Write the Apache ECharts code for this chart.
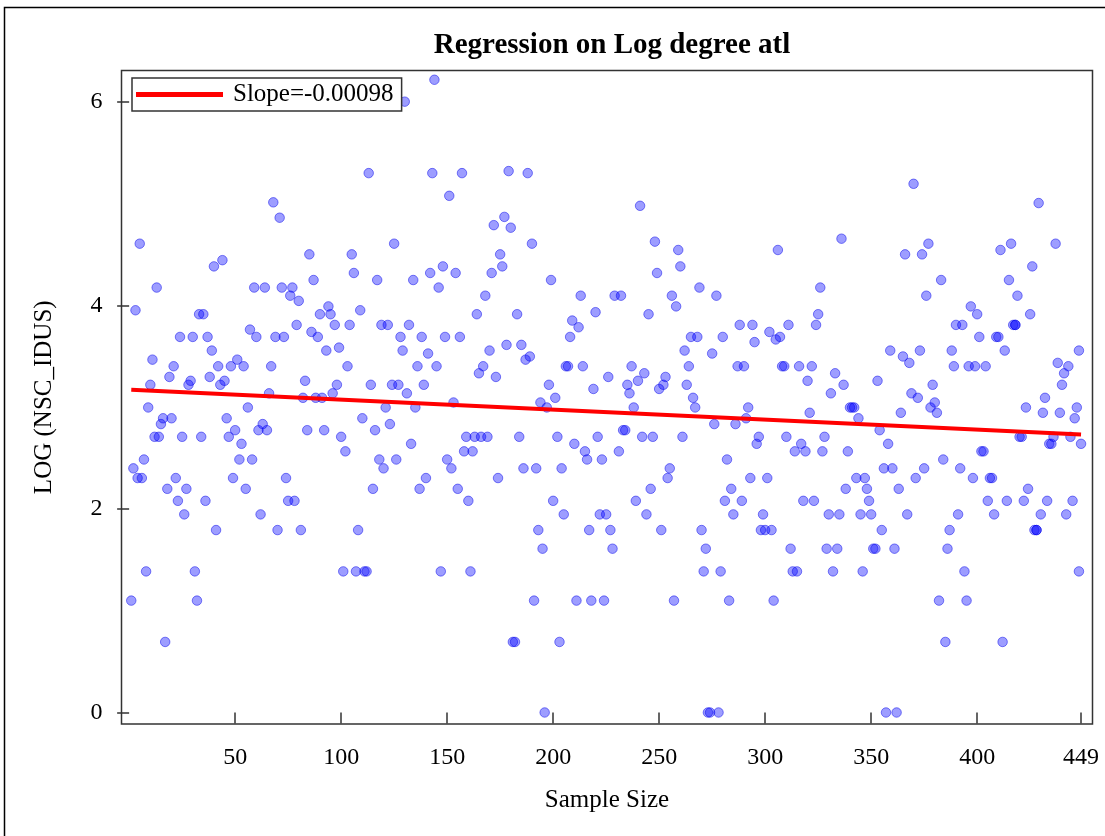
<!DOCTYPE html>
<html>
<head>
<meta charset="utf-8">
<script src="https://cdn.jsdelivr.net/npm/echarts@6/dist/echarts.min.js"></script>
<style>
  html, body { margin: 0; padding: 0; background: #fff; }
  #chart { width: 1105px; height: 836px; }
</style>
</head>
<body>
<div id="chart"></div>
<script>
// ---- Data ----
const sampleSize = [
  1,2,3,4,5,6,7,8,9,10,11,12,13,14,15,16,17,18,19,20,
  21,22,23,24,25,26,27,28,29,30,31,32,33,34,35,36,37,38,39,40,
  41,42,43,44,45,46,47,48,49,50,51,52,53,54,55,56,57,58,59,60,
  61,62,63,64,65,66,67,68,69,70,71,72,73,74,75,76,77,78,79,80,
  81,82,83,84,85,86,87,88,89,90,91,92,93,94,95,96,97,98,99,100,
  101,102,103,104,105,106,107,108,109,110,111,112,113,114,115,116,117,118,119,120,
  121,122,123,124,125,126,127,128,129,130,131,132,133,134,135,136,137,138,139,140,
  141,142,143,144,145,146,147,148,149,150,151,152,153,154,155,156,157,158,159,160,
  161,162,163,164,165,166,167,168,169,170,171,172,173,174,175,176,177,178,179,180,
  181,182,183,184,185,186,187,188,189,190,191,192,193,194,195,196,197,198,199,200,
  201,202,203,204,205,206,207,208,209,210,211,212,213,214,215,216,217,218,219,220,
  221,222,223,224,225,226,227,228,229,
  231,232,233,234,235,236,237,238,239,240,
  241,242,243,244,245,246,247,248,249,250,251,252,253,254,255,256,257,258,259,260,
  261,262,263,264,265,266,267,268,269,270,271,272,273,274,275,276,277,278,279,280,
  281,282,283,284,285,286,287,288,289,290,291,292,293,294,295,296,297,298,299,300,
  301,302,303,304,305,306,307,308,309,310,311,312,313,314,315,316,317,318,319,320,
  321,322,323,324,325,326,327,328,329,330,331,332,333,334,335,336,337,338,339,340,
  341,342,343,344,345,346,347,348,349,350,351,352,353,354,355,356,357,358,359,360,
  361,362,363,364,365,366,367,368,369,370,371,372,373,374,375,376,377,378,379,380,
  381,382,383,384,385,386,387,388,389,390,391,392,393,394,395,396,397,398,399,400,
  401,402,403,404,405,406,407,408,409,410,411,412,413,414,415,416,417,
  418,418,
  419,420,421,422,423,424,425,426,427,428,
  428,
  429,430,431,432,433,434,435,436,437,438,439,440,441,442,443,444,445,446,447,448,
  448,449
];

const logDegree = [
  // 1-76
  1.099,2.398,3.951,2.303,4.605,2.303,2.485,1.386,2.996,3.219,
  3.466,2.708,4.174,2.708,2.833,2.890,0.693,2.197,3.296,2.890,
  3.401,2.303,2.079,3.689,2.708,1.946,2.197,3.219,3.258,3.689,
  1.386,1.099,3.912,2.708,3.912,2.079,3.689,3.296,3.555,4.382,
  1.792,3.401,3.219,4.443,3.258,2.890,2.708,3.401,2.303,2.773,
  3.466,2.485,2.639,3.401,2.197,2.996,3.761,2.485,4.174,3.689,
  2.773,1.946,2.833,4.174,2.773,3.135,3.401,5.011,3.689,1.792,
  4.860,4.174,3.689,2.303,2.079,4.094,
  // 77-151
  4.174,2.079,3.807,4.043,1.792,3.091,3.258,2.773,4.500,3.738,
  4.248,3.091,3.689,3.912,3.091,2.773,3.555,3.989,3.912,3.135,
  3.807,3.219,3.584,2.708,1.386,2.565,3.401,3.807,4.500,4.317,
  1.386,1.792,3.951,2.890,1.386,1.386,5.298,3.219,2.197,2.773,
  4.248,2.485,3.807,2.398,2.996,3.807,2.833,3.219,4.605,2.485,
  3.219,3.689,3.555,6.000,3.135,3.807,2.639,4.248,2.996,3.401,
  2.197,3.689,3.219,2.303,3.526,4.317,5.298,6.215,3.401,4.174,
  1.386,4.382,3.689,2.485,5.075,
  // 152-228
  2.398,3.045,4.317,2.197,3.689,5.298,2.565,2.708,
  2.079,1.386,2.565,2.708,3.912,3.332,2.708,3.401,4.094,2.708,
  3.555,4.317,4.787,3.296,2.303,4.500,4.382,4.868,3.611,5.318,
  4.762,0.693,0.693,3.912,2.708,3.611,2.398,3.466,5.298,3.497,
  4.605,1.099,2.398,1.792,3.045,1.609,0.000,2.996,3.219,4.248,
  2.079,3.091,2.708,0.693,2.398,1.946,3.401,3.401,3.689,3.850,
  2.639,1.099,3.784,4.094,3.401,2.565,2.485,1.792,1.099,3.178,
  3.932,2.708,1.946,2.485,1.099,1.946,3.296,1.792,1.609,
  // 229
  4.094,
  // 231-302
  2.565,4.094,2.773,2.773,3.219,3.135,3.401,2.996,2.079,3.258,
  4.977,2.708,3.332,1.946,3.912,2.197,2.708,4.625,4.317,3.178,
  1.792,3.219,3.296,2.303,2.398,4.094,1.099,3.989,4.543,4.382,
  2.708,3.555,3.219,3.401,3.689,3.091,2.996,3.689,4.174,1.792,
  1.386,1.609,0.000,0.000,3.526,2.833,4.094,0.000,1.386,3.689,
  2.079,2.485,1.099,2.197,1.946,2.833,3.401,3.807,2.079,3.401,
  2.890,2.996,2.303,3.807,3.638,2.639,2.708,1.792,1.946,1.792,
  2.303,3.738,
  // 303-379
  1.792,1.099,3.664,4.543,3.689,3.401,3.401,2.708,
  3.807,1.609,1.386,2.565,1.386,3.401,2.639,2.079,2.565,3.258,
  2.944,3.401,2.079,3.807,3.912,4.174,2.565,2.708,1.609,1.946,
  3.135,1.386,3.332,1.609,1.946,4.654,3.219,2.197,2.565,2.996,
  2.996,2.996,2.303,2.890,1.946,1.386,2.303,2.197,2.079,1.946,
  1.609,1.609,3.258,2.773,1.792,2.398,0.000,2.639,3.555,2.398,
  1.609,0.000,2.197,2.944,3.497,4.500,1.946,3.434,3.135,5.193,
  2.303,3.091,3.555,4.500,2.398,4.094,4.605,2.996,3.219,
  // 380-416
  3.045,2.944,1.099,4.248,2.485,0.693,1.609,1.792,3.555,3.401,
  3.807,1.946,2.398,3.807,1.386,1.099,3.401,3.989,2.303,3.401,
  3.912,3.689,2.565,2.565,3.401,2.079,2.303,2.303,1.946,3.689,
  3.689,4.543,0.693,3.555,2.079,4.248,4.605,
  // 417, 418, 418
  3.807,3.807,3.807,
  // 419-428
  4.094,2.708,2.708,2.079,2.996,2.197,3.912,4.382,1.792,1.792,
  // 428
  1.792,
  // 429-448
  5.004,1.946,2.944,3.091,2.079,2.639,2.639,2.708,4.605,3.434,
  2.944,3.219,3.332,1.946,3.401,2.708,2.079,2.890,2.996,3.555,
  // 448, 449
  1.386,2.639
];

// Regression line (end points)
const fitX = [1, 449];
const fitY = [3.170, 2.731];
const legendLabel = 'Slope=-0.00098';

const xTickValues = [50, 100, 150, 200, 250, 300, 350, 400, 449];
const yTickValues = [0, 2, 4, 6];

const chartTitle = 'Regression on Log degree atl';
const xAxisTitle = 'Sample Size';
const yAxisTitle = 'LOG (NSC_IDUS)';

// ---- Build chart ----
const points = sampleSize.map((x, i) => [x, logDegree[i]]);
const fitLine = fitX.map((x, i) => [x, fitY[i]]);

const serif = '"Liberation Serif", "Times New Roman", serif';
let titleText = chartTitle;
if (sampleSize.length !== logDegree.length) {
  titleText += ' [len ' + sampleSize.length + ' vs ' + logDegree.length + ']';
}

const chart = echarts.init(document.getElementById('chart'), null, { renderer: 'canvas' });
chart.setOption({
  animation: false,
  backgroundColor: '#ffffff',
  graphic: [{
    type: 'rect',
    shape: { x: 4.5, y: 7.5, width: 1300, height: 1000 },
    style: { fill: 'none', stroke: '#000', lineWidth: 1.5 },
    silent: true
  }],
  title: {
    text: titleText,
    left: 607,
    top: 26,
    textAlign: 'center',
    textStyle: { fontFamily: serif, fontWeight: 'bold', fontSize: 29, color: '#000' }
  },
  legend: {
    show: true,
    left: 132,
    top: 78,
    orient: 'horizontal',
    backgroundColor: '#fff',
    borderColor: '#333',
    borderWidth: 1.5,
    padding: [4, 8, 4, 4],
    itemWidth: 87,
    itemHeight: 5,
    data: [{ name: legendLabel, icon: 'rect' }],
    textStyle: { fontFamily: serif, fontSize: 25, color: '#000', padding: [0, 0, 0, 5] },
    selectedMode: false
  },
  grid: {
    left: 121.5,
    right: 12.5,
    top: 70.5,
    bottom: 112,
    show: true,
    borderColor: '#333',
    borderWidth: 1.5,
    containLabel: false
  },
  xAxis: {
    type: 'value',
    min: -3.6,
    max: 454.4,
    name: xAxisTitle,
    nameLocation: 'middle',
    nameGap: 64,
    nameTextStyle: { fontFamily: serif, fontSize: 25, color: '#000' },
    axisLine: { show: false },
    axisTick: { show: true, length: 11, customValues: xTickValues, lineStyle: { color: '#333', width: 1.5 } },
    axisLabel: { customValues: xTickValues, margin: 22, fontFamily: serif, fontSize: 24, color: '#000' },
    splitLine: { show: false }
  },
  yAxis: {
    type: 'value',
    min: -0.113,
    max: 6.306,
    name: yAxisTitle,
    nameLocation: 'middle',
    nameRotate: 90,
    nameGap: 65,
    nameTextStyle: { fontFamily: serif, fontSize: 25, color: '#000' },
    axisLine: { show: false },
    axisTick: { show: true, length: 12, customValues: yTickValues, lineStyle: { color: '#333', width: 1.5 } },
    axisLabel: { customValues: yTickValues, margin: 19, fontFamily: serif, fontSize: 24, color: '#000' },
    splitLine: { show: false }
  },
  series: [
    {
      name: 'points',
      type: 'scatter',
      data: points,
      symbol: 'circle',
      symbolSize: 9.5,
      itemStyle: { color: 'rgba(0,0,255,0.48)', borderColor: 'rgba(0,0,235,0.6)', borderWidth: 1 },
      emphasis: { disabled: true },
      z: 2
    },
    {
      name: legendLabel,
      type: 'line',
      data: fitLine,
      symbol: 'none',
      lineStyle: { color: '#ff0000', width: 4 },
      itemStyle: { color: '#ff0000' },
      z: 3
    }
  ]
});
</script>
</body>
</html>
